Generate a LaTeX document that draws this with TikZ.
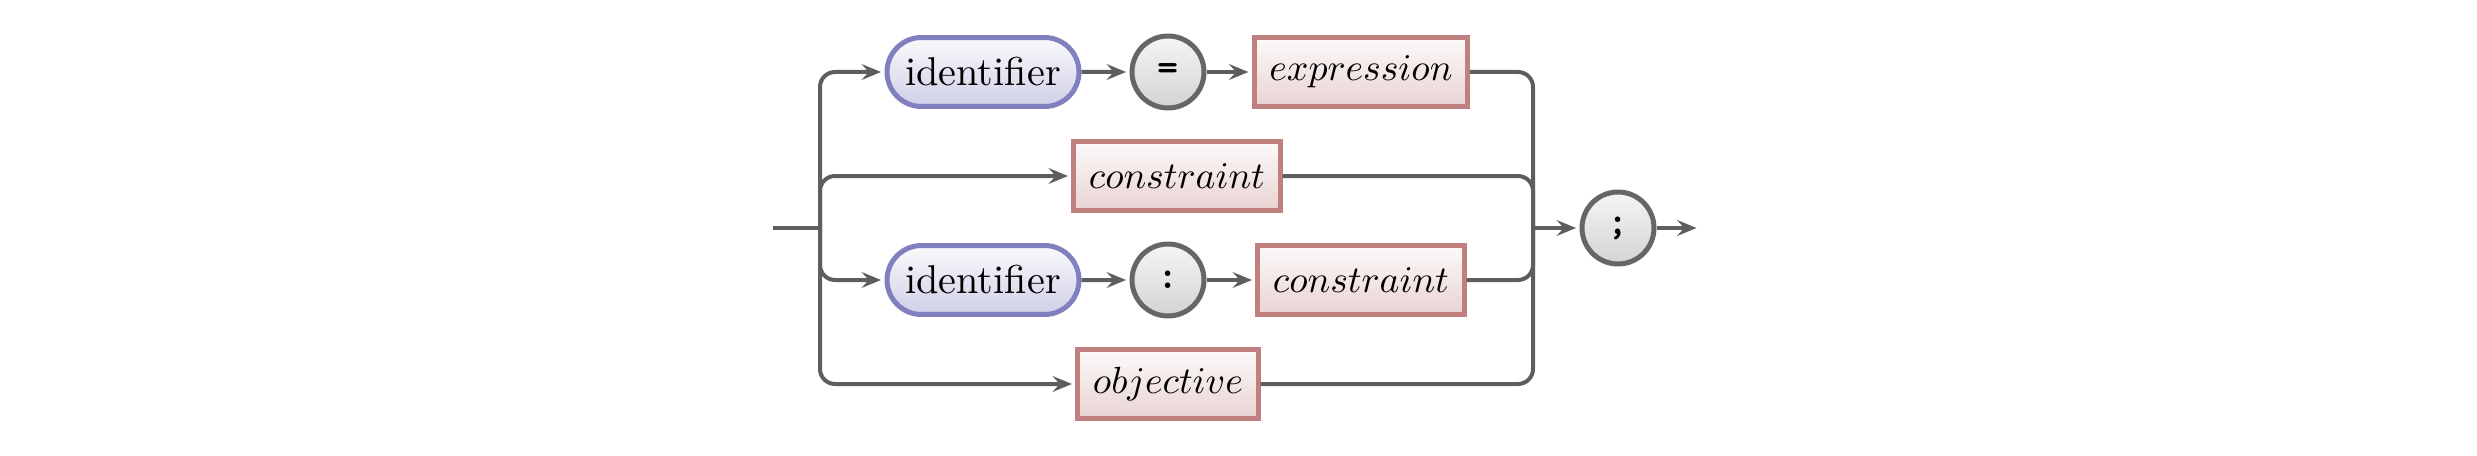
\documentclass[tikz,border=0pt]{standalone}
\usepackage{graphicx}
\usetikzlibrary{arrows.meta,shapes.misc}
\definecolor{linegray}{HTML}{5E5E5E}
\definecolor{circgray}{HTML}{666666}
\definecolor{idborder}{HTML}{8080C0}
\definecolor{boxborder}{HTML}{C08080}
\newcommand\idtxt[1]{\scalebox{2.29}{#1}}
\newcommand\mtxt[1]{\scalebox{2.15}{$#1$}}
\newcommand\symtxt[1]{\scalebox{2.29}{\ttfamily\bfseries #1}}
\tikzset{
  conn/.style={draw=linegray, line width=0.08cm, rounded corners=0.3cm},
  arr/.style={conn, -{Stealth[length=11pt,width=9pt,inset=4pt]}, shorten >=2pt},
  idnode/.style={rounded rectangle, draw=idborder, line width=0.1cm,
    top color=white!96!idborder, bottom color=idborder!38!white,
    minimum width=3.84cm, minimum height=1.38cm, inner sep=0pt},
  boxnode/.style={rectangle, draw=boxborder, line width=0.1cm,
    top color=white!96!boxborder, bottom color=boxborder!35!white,
    minimum height=1.38cm, inner xsep=0.3cm, inner ysep=0pt},
  circnode/.style={circle, draw=circgray, line width=0.1cm,
    top color=white!96!black, bottom color=black!17,
    minimum size=1.44cm, inner sep=0pt}
}
\begin{document}
\begin{tikzpicture}[x=0.02cm,y=-0.02cm]
\useasboundingbox (0,0) rectangle (2477,456);
\node[idnode] (id1) at (983,72) {\idtxt{identifier}};
\node[circnode] (eq) at (1168,72) {\symtxt{=}};
\node[boxnode] (ex1) at (1361,72) {\mtxt{expression}};
\node[boxnode] (c2) at (1177,176) {\mtxt{constraint}};
\node[idnode] (id3) at (983,280) {\idtxt{identifier}};
\node[circnode] (colon) at (1168,280) {\symtxt{:}};
\node[boxnode] (c3) at (1361,280) {\mtxt{constraint}};
\node[boxnode] (obj) at (1168,384) {\mtxt{objective}};
\node[circnode] (semi) at (1618,228) {\symtxt{;}};
\coordinate (start) at (773,228);
\coordinate (split) at (820,228);
\coordinate (join) at (1533,228);
\coordinate (end) at (1700,228);
\draw[conn] (start) -- (split);
\draw[arr] (split) |- (id1.west);
\draw[arr] (split) |- (c2.west);
\draw[arr] (split) |- (id3.west);
\draw[arr] (split) |- (obj.west);
\draw[arr] (id1) -- (eq);
\draw[arr] (eq) -- (ex1);
\draw[arr] (id3) -- (colon);
\draw[arr] (colon) -- (c3);
\draw[conn] (ex1.east) -| (join);
\draw[conn] (c2.east) -| (join);
\draw[conn] (c3.east) -| (join);
\draw[conn] (obj.east) -| (join);
\draw[arr] (join) -- (semi);
\draw[arr] (semi) -- (end);
\end{tikzpicture}
\end{document}
